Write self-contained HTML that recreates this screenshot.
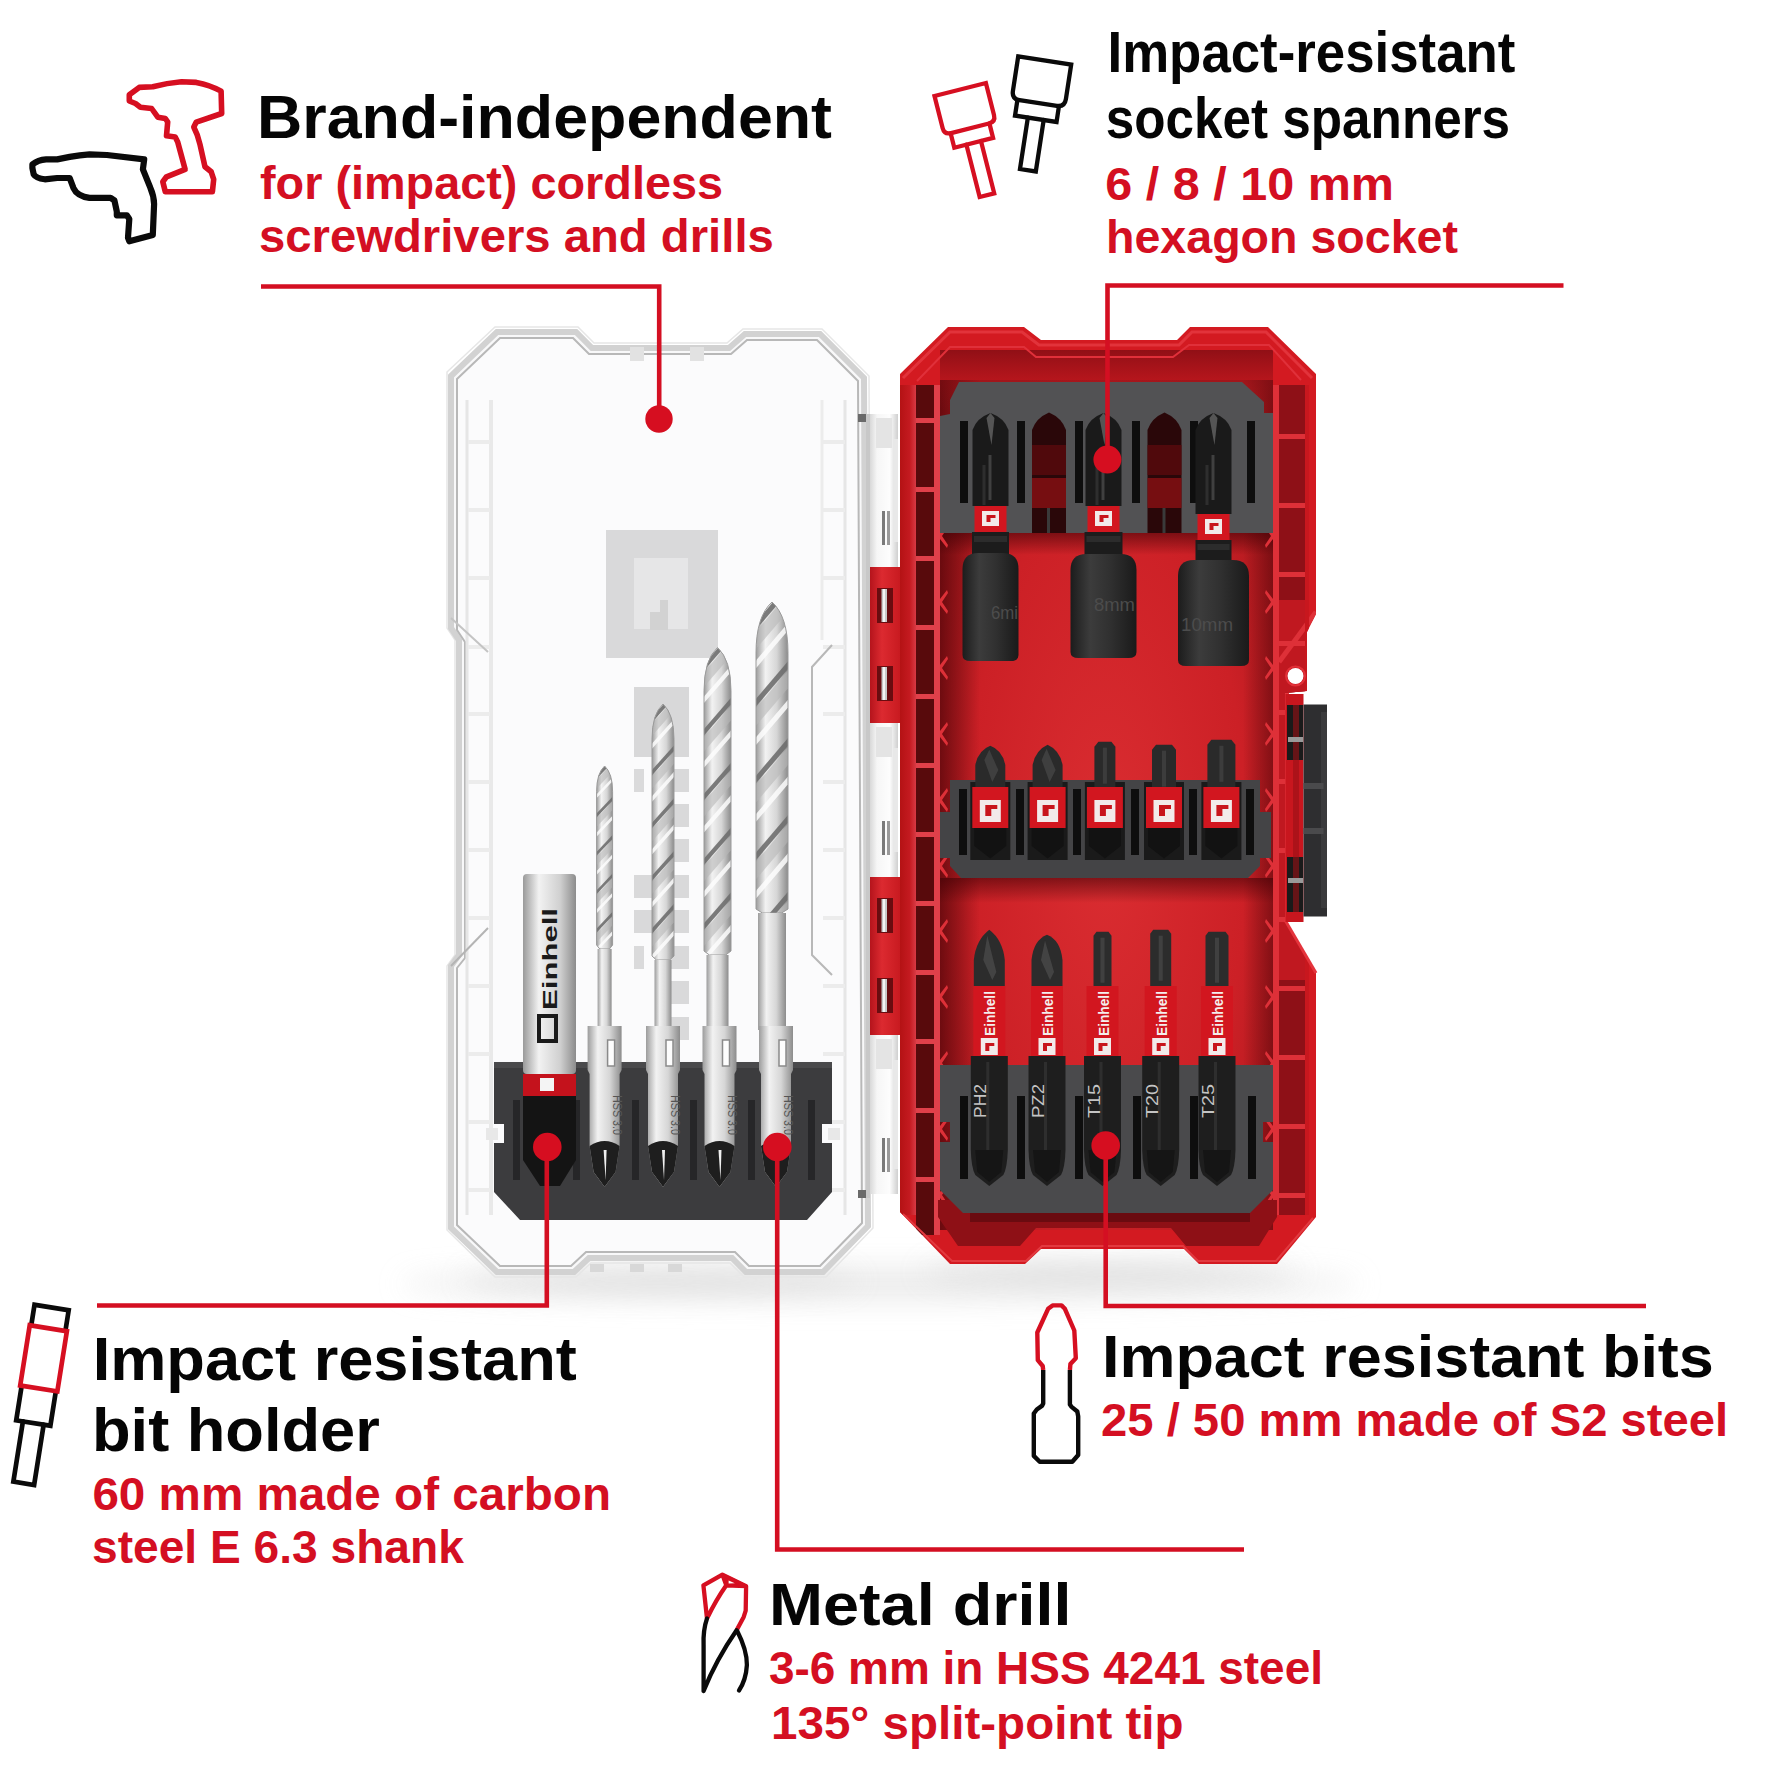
<!DOCTYPE html>
<html><head><meta charset="utf-8">
<style>
html,body{margin:0;padding:0;background:#fff;}
body{width:1772px;height:1772px;overflow:hidden;position:relative;}
svg{position:absolute;left:0;top:0;}
.k{font-family:"Liberation Sans",sans-serif;font-weight:bold;fill:#050505;}
.r{font-family:"Liberation Sans",sans-serif;font-weight:bold;fill:#d40f22;}
</style></head><body>
<svg width="1772" height="1772" viewBox="0 0 1772 1772">
<defs><filter id="blur8" x="-30%" y="-300%" width="160%" height="700%"><feGaussianBlur stdDeviation="14"/></filter><filter id="blur3"><feGaussianBlur stdDeviation="2"/></filter><linearGradient id="drillg" x1="0" x2="1"><stop offset="0" stop-color="#9c9c9c"/><stop offset="0.3" stop-color="#f2f2f2"/><stop offset="0.65" stop-color="#d6d6d6"/><stop offset="1" stop-color="#8c8c8c"/></linearGradient><linearGradient id="holdg" x1="0" x2="1"><stop offset="0" stop-color="#9a9a9a"/><stop offset="0.3" stop-color="#f2f2f2"/><stop offset="0.7" stop-color="#d0d0d0"/><stop offset="1" stop-color="#8c8c8c"/></linearGradient><linearGradient id="sockg" x1="0" x2="1"><stop offset="0" stop-color="#1c1c1c"/><stop offset="0.3" stop-color="#3c3c3c"/><stop offset="0.6" stop-color="#303030"/><stop offset="1" stop-color="#1a1a1a"/></linearGradient></defs>
<ellipse cx="880" cy="1284" rx="480" ry="16" fill="#e2e2e2" filter="url(#blur8)" opacity="0.7"/>
<ellipse cx="660" cy="1280" rx="200" ry="8" fill="#cdcdcd" filter="url(#blur8)" opacity="0.6"/>
<ellipse cx="1110" cy="1272" rx="190" ry="8" fill="#c6c6c6" filter="url(#blur8)" opacity="0.6"/>
<polygon points="447,372 495,327 578,327 594,343 727,343 743,329 822,329 869,376 873,1228 826,1277 744,1277 730,1263 591,1263 576,1277 495,1277 447,1230 447,966 455,955 455,640 447,628" fill="none" stroke="#e6e6e6" stroke-width="1.5"/>
<polygon points="451,376 497,332 576,332 592,348 729,348 745,334 820,334 864,378 868,1226 823,1272 746,1272 732,1258 589,1258 574,1272 497,1272 451,1228 451,966 459,955 459,640 451,628" fill="#f8f8f9" stroke="#d2d2d2" stroke-width="6"/>
<polygon points="457,379 500,338 573,338 589,354 731,354 747,340 817,340 858,381 862,1223 820,1266 749,1266 735,1252 586,1252 571,1266 500,1266 457,1225 457,968 465,958 465,642 457,630" fill="#fbfbfc" stroke="#b8b8b8" stroke-width="2"/>
<polyline points="467,400 467,1215" fill="none" stroke="#e6e6e6" stroke-width="3"/>
<polyline points="491,400 491,1215" fill="none" stroke="#e9e9e9" stroke-width="4"/>
<polyline points="845,400 845,1215" fill="none" stroke="#e6e6e6" stroke-width="3"/>
<polyline points="822,400 822,640" fill="none" stroke="#ececec" stroke-width="3"/>
<rect x="468" y="440" width="22" height="4" fill="#ececec"/>
<rect x="823" y="440" width="22" height="4" fill="#ececec"/>
<rect x="468" y="508" width="22" height="4" fill="#ececec"/>
<rect x="823" y="508" width="22" height="4" fill="#ececec"/>
<rect x="468" y="576" width="22" height="4" fill="#ececec"/>
<rect x="823" y="576" width="22" height="4" fill="#ececec"/>
<rect x="468" y="645" width="22" height="4" fill="#ececec"/>
<rect x="823" y="645" width="22" height="4" fill="#ececec"/>
<rect x="468" y="712" width="22" height="4" fill="#ececec"/>
<rect x="823" y="712" width="22" height="4" fill="#ececec"/>
<rect x="468" y="780" width="22" height="4" fill="#ececec"/>
<rect x="823" y="780" width="22" height="4" fill="#ececec"/>
<rect x="468" y="848" width="22" height="4" fill="#ececec"/>
<rect x="823" y="848" width="22" height="4" fill="#ececec"/>
<rect x="468" y="916" width="22" height="4" fill="#ececec"/>
<rect x="823" y="916" width="22" height="4" fill="#ececec"/>
<rect x="468" y="984" width="22" height="4" fill="#ececec"/>
<rect x="823" y="984" width="22" height="4" fill="#ececec"/>
<rect x="468" y="1052" width="22" height="4" fill="#ececec"/>
<rect x="823" y="1052" width="22" height="4" fill="#ececec"/>
<rect x="468" y="1120" width="22" height="4" fill="#ececec"/>
<rect x="823" y="1120" width="22" height="4" fill="#ececec"/>
<rect x="468" y="1188" width="22" height="4" fill="#ececec"/>
<rect x="823" y="1188" width="22" height="4" fill="#ececec"/>
<polyline points="451,618 488,652" fill="none" stroke="#c4c4c4" stroke-width="2"/>
<polyline points="488,928 451,966" fill="none" stroke="#b4b4b4" stroke-width="2"/>
<polyline points="832,645 812,667 812,955 832,975" fill="none" stroke="#b8b8b8" stroke-width="2"/>
<rect x="630" y="347" width="14" height="14" fill="#e2e2e2"/>
<rect x="690" y="347" width="14" height="14" fill="#e2e2e2"/>
<rect x="590" y="1264" width="14" height="8" fill="#d8d8d8"/>
<rect x="630" y="1264" width="14" height="8" fill="#d8d8d8"/>
<rect x="668" y="1264" width="14" height="8" fill="#d8d8d8"/>
<rect x="606" y="530" width="112" height="128" fill="#d9d9da"/>
<rect x="634" y="558" width="54" height="71" fill="#e6e6e7"/>
<polygon points="660,600 668,600 668,630 650,630 650,612 660,612" fill="#d2d2d2"/>
<rect x="634" y="687" width="55" height="70" fill="#d8d8d9"/>
<rect x="669" y="769" width="20" height="23" fill="#d9d9da"/>
<rect x="669" y="804" width="20" height="23" fill="#d9d9da"/>
<rect x="669" y="839" width="20" height="23" fill="#d9d9da"/>
<rect x="669" y="875" width="20" height="23" fill="#d9d9da"/>
<rect x="669" y="910" width="20" height="23" fill="#d9d9da"/>
<rect x="669" y="946" width="20" height="23" fill="#d9d9da"/>
<rect x="669" y="981" width="20" height="23" fill="#d9d9da"/>
<rect x="669" y="1017" width="20" height="23" fill="#d9d9da"/>
<rect x="634" y="769" width="10" height="23" fill="#dadadb"/>
<rect x="634" y="875" width="10" height="23" fill="#dadadb"/>
<rect x="634" y="946" width="10" height="23" fill="#dadadb"/>
<rect x="634" y="875" width="55" height="23" fill="#d9d9da"/>
<rect x="634" y="910" width="55" height="23" fill="#d9d9da"/>
<clipPath id="dc1"><path d="M596.6,791.6 Q596.6,773.2 604.6,766 Q612.6,773.2 612.6,791.6 L612.6,945 L609.4,949 L599.8000000000001,949 L596.6,945 Z"/></clipPath><path d="M596.6,791.6 Q596.6,773.2 604.6,766 Q612.6,773.2 612.6,791.6 L612.6,945 L609.4,949 L599.8000000000001,949 L596.6,945 Z" fill="url(#drillg)"/><g clip-path="url(#dc1)"><path d="M594.6,777.2 L614.6,756.08 L614.6,759.9200000000001 L594.6,781.0400000000001 Z" fill="#6e6e6e" opacity="0.9"/><path d="M594.6,781.808 L614.6,760.6880000000001 L614.6,769.5200000000001 L594.6,790.6400000000001 Z" fill="#b8b8b8" opacity="0.6"/><path d="M594.6,796.4000000000001 L614.6,775.2800000000001 L614.6,779.12 L594.6,800.24 Z" fill="#fdfdfd" opacity="0.85"/><path d="M594.6,815.6 L614.6,794.48 L614.6,798.32 L594.6,819.44 Z" fill="#6e6e6e" opacity="0.9"/><path d="M594.6,820.208 L614.6,799.088 L614.6,807.9200000000001 L594.6,829.0400000000001 Z" fill="#b8b8b8" opacity="0.6"/><path d="M594.6,834.8000000000001 L614.6,813.6800000000001 L614.6,817.52 L594.6,838.64 Z" fill="#fdfdfd" opacity="0.85"/><path d="M594.6,854.0 L614.6,832.88 L614.6,836.72 L594.6,857.84 Z" fill="#6e6e6e" opacity="0.9"/><path d="M594.6,858.608 L614.6,837.488 L614.6,846.32 L594.6,867.44 Z" fill="#b8b8b8" opacity="0.6"/><path d="M594.6,873.2 L614.6,852.08 L614.6,855.92 L594.6,877.04 Z" fill="#fdfdfd" opacity="0.85"/><path d="M594.6,892.4 L614.6,871.28 L614.6,875.12 L594.6,896.24 Z" fill="#6e6e6e" opacity="0.9"/><path d="M594.6,897.0079999999999 L614.6,875.8879999999999 L614.6,884.72 L594.6,905.84 Z" fill="#b8b8b8" opacity="0.6"/><path d="M594.6,911.6 L614.6,890.48 L614.6,894.3199999999999 L594.6,915.4399999999999 Z" fill="#fdfdfd" opacity="0.85"/><path d="M594.6,930.8 L614.6,909.68 L614.6,913.52 L594.6,934.64 Z" fill="#6e6e6e" opacity="0.9"/><path d="M594.6,935.4079999999999 L614.6,914.288 L614.6,923.12 L594.6,944.24 Z" fill="#b8b8b8" opacity="0.6"/><path d="M594.6,950.0 L614.6,928.88 L614.6,932.7199999999999 L594.6,953.8399999999999 Z" fill="#fdfdfd" opacity="0.85"/><path d="M594.6,969.1999999999999 L614.6,948.0799999999999 L614.6,951.92 L594.6,973.04 Z" fill="#6e6e6e" opacity="0.9"/><path d="M594.6,973.8079999999999 L614.6,952.6879999999999 L614.6,961.52 L594.6,982.64 Z" fill="#b8b8b8" opacity="0.6"/><path d="M594.6,988.4 L614.6,967.28 L614.6,971.1199999999999 L594.6,992.2399999999999 Z" fill="#fdfdfd" opacity="0.85"/></g><path d="M596.6,791.6 Q596.6,773.2 604.6,766 Q612.6,773.2 612.6,791.6 L612.6,945 L609.4,949 L599.8000000000001,949 L596.6,945 Z" fill="none" stroke="#9a9a9a" stroke-width="1"/><rect x="597.6" y="949" width="14" height="81" fill="url(#drillg)"/>
<clipPath id="dc2"><path d="M652.0,739.2 Q652.0,713.9 663,704 Q674.0,713.9 674.0,739.2 L674.0,956 L669.6,960 L656.4,960 L652.0,956 Z"/></clipPath><path d="M652.0,739.2 Q652.0,713.9 663,704 Q674.0,713.9 674.0,739.2 L674.0,956 L669.6,960 L656.4,960 L652.0,956 Z" fill="url(#drillg)"/><g clip-path="url(#dc2)"><path d="M650.0,719.4 L676.0,690.36 L676.0,695.64 L650.0,724.68 Z" fill="#6e6e6e" opacity="0.9"/><path d="M650.0,725.736 L676.0,696.696 L676.0,708.84 L650.0,737.88 Z" fill="#b8b8b8" opacity="0.6"/><path d="M650.0,745.8 L676.0,716.76 L676.0,722.04 L650.0,751.0799999999999 Z" fill="#fdfdfd" opacity="0.85"/><path d="M650.0,772.1999999999999 L676.0,743.16 L676.0,748.4399999999999 L650.0,777.4799999999999 Z" fill="#6e6e6e" opacity="0.9"/><path d="M650.0,778.536 L676.0,749.496 L676.0,761.64 L650.0,790.68 Z" fill="#b8b8b8" opacity="0.6"/><path d="M650.0,798.5999999999999 L676.0,769.56 L676.0,774.8399999999999 L650.0,803.8799999999999 Z" fill="#fdfdfd" opacity="0.85"/><path d="M650.0,824.9999999999999 L676.0,795.9599999999999 L676.0,801.2399999999999 L650.0,830.2799999999999 Z" fill="#6e6e6e" opacity="0.9"/><path d="M650.0,831.3359999999999 L676.0,802.2959999999999 L676.0,814.4399999999999 L650.0,843.4799999999999 Z" fill="#b8b8b8" opacity="0.6"/><path d="M650.0,851.3999999999999 L676.0,822.3599999999999 L676.0,827.6399999999999 L650.0,856.6799999999998 Z" fill="#fdfdfd" opacity="0.85"/><path d="M650.0,877.7999999999998 L676.0,848.7599999999999 L676.0,854.0399999999998 L650.0,883.0799999999998 Z" fill="#6e6e6e" opacity="0.9"/><path d="M650.0,884.1359999999999 L676.0,855.0959999999999 L676.0,867.2399999999999 L650.0,896.2799999999999 Z" fill="#b8b8b8" opacity="0.6"/><path d="M650.0,904.1999999999998 L676.0,875.1599999999999 L676.0,880.4399999999998 L650.0,909.4799999999998 Z" fill="#fdfdfd" opacity="0.85"/><path d="M650.0,930.5999999999998 L676.0,901.5599999999998 L676.0,906.8399999999998 L650.0,935.8799999999998 Z" fill="#6e6e6e" opacity="0.9"/><path d="M650.0,936.9359999999998 L676.0,907.8959999999998 L676.0,920.0399999999998 L650.0,949.0799999999998 Z" fill="#b8b8b8" opacity="0.6"/><path d="M650.0,956.9999999999998 L676.0,927.9599999999998 L676.0,933.2399999999998 L650.0,962.2799999999997 Z" fill="#fdfdfd" opacity="0.85"/><path d="M650.0,983.3999999999997 L676.0,954.3599999999998 L676.0,959.6399999999998 L650.0,988.6799999999997 Z" fill="#6e6e6e" opacity="0.9"/><path d="M650.0,989.7359999999998 L676.0,960.6959999999998 L676.0,972.8399999999998 L650.0,1001.8799999999998 Z" fill="#b8b8b8" opacity="0.6"/><path d="M650.0,1009.7999999999997 L676.0,980.7599999999998 L676.0,986.0399999999997 L650.0,1015.0799999999997 Z" fill="#fdfdfd" opacity="0.85"/></g><path d="M652.0,739.2 Q652.0,713.9 663,704 Q674.0,713.9 674.0,739.2 L674.0,956 L669.6,960 L656.4,960 L652.0,956 Z" fill="none" stroke="#9a9a9a" stroke-width="1"/><rect x="654.5" y="960" width="17" height="70" fill="url(#drillg)"/>
<clipPath id="dc3"><path d="M704.0,690.7 Q704.0,659.65 717.5,647.5 Q731.0,659.65 731.0,690.7 L731.0,951 L725.6,955 L709.4,955 L704.0,951 Z"/></clipPath><path d="M704.0,690.7 Q704.0,659.65 717.5,647.5 Q731.0,659.65 731.0,690.7 L731.0,951 L725.6,955 L709.4,955 L704.0,951 Z" fill="url(#drillg)"/><g clip-path="url(#dc3)"><path d="M702.0,666.4 L733.0,630.76 L733.0,637.24 L702.0,672.88 Z" fill="#6e6e6e" opacity="0.9"/><path d="M702.0,674.1759999999999 L733.0,638.536 L733.0,653.4399999999999 L702.0,689.0799999999999 Z" fill="#b8b8b8" opacity="0.6"/><path d="M702.0,698.8 L733.0,663.16 L733.0,669.64 L702.0,705.28 Z" fill="#fdfdfd" opacity="0.85"/><path d="M702.0,731.1999999999999 L733.0,695.56 L733.0,702.04 L702.0,737.68 Z" fill="#6e6e6e" opacity="0.9"/><path d="M702.0,738.9759999999999 L733.0,703.3359999999999 L733.0,718.2399999999999 L702.0,753.8799999999999 Z" fill="#b8b8b8" opacity="0.6"/><path d="M702.0,763.5999999999999 L733.0,727.9599999999999 L733.0,734.4399999999999 L702.0,770.0799999999999 Z" fill="#fdfdfd" opacity="0.85"/><path d="M702.0,795.9999999999999 L733.0,760.3599999999999 L733.0,766.8399999999999 L702.0,802.4799999999999 Z" fill="#6e6e6e" opacity="0.9"/><path d="M702.0,803.7759999999998 L733.0,768.1359999999999 L733.0,783.0399999999998 L702.0,818.6799999999998 Z" fill="#b8b8b8" opacity="0.6"/><path d="M702.0,828.3999999999999 L733.0,792.7599999999999 L733.0,799.2399999999999 L702.0,834.8799999999999 Z" fill="#fdfdfd" opacity="0.85"/><path d="M702.0,860.7999999999998 L733.0,825.1599999999999 L733.0,831.6399999999999 L702.0,867.2799999999999 Z" fill="#6e6e6e" opacity="0.9"/><path d="M702.0,868.5759999999998 L733.0,832.9359999999998 L733.0,847.8399999999998 L702.0,883.4799999999998 Z" fill="#b8b8b8" opacity="0.6"/><path d="M702.0,893.1999999999998 L733.0,857.5599999999998 L733.0,864.0399999999998 L702.0,899.6799999999998 Z" fill="#fdfdfd" opacity="0.85"/><path d="M702.0,925.5999999999998 L733.0,889.9599999999998 L733.0,896.4399999999998 L702.0,932.0799999999998 Z" fill="#6e6e6e" opacity="0.9"/><path d="M702.0,933.3759999999997 L733.0,897.7359999999998 L733.0,912.6399999999998 L702.0,948.2799999999997 Z" fill="#b8b8b8" opacity="0.6"/><path d="M702.0,957.9999999999998 L733.0,922.3599999999998 L733.0,928.8399999999998 L702.0,964.4799999999998 Z" fill="#fdfdfd" opacity="0.85"/><path d="M702.0,990.3999999999997 L733.0,954.7599999999998 L733.0,961.2399999999998 L702.0,996.8799999999998 Z" fill="#6e6e6e" opacity="0.9"/><path d="M702.0,998.1759999999997 L733.0,962.5359999999997 L733.0,977.4399999999997 L702.0,1013.0799999999997 Z" fill="#b8b8b8" opacity="0.6"/><path d="M702.0,1022.7999999999997 L733.0,987.1599999999997 L733.0,993.6399999999998 L702.0,1029.2799999999997 Z" fill="#fdfdfd" opacity="0.85"/></g><path d="M704.0,690.7 Q704.0,659.65 717.5,647.5 Q731.0,659.65 731.0,690.7 L731.0,951 L725.6,955 L709.4,955 L704.0,951 Z" fill="none" stroke="#9a9a9a" stroke-width="1"/><rect x="706.5" y="955" width="22" height="75" fill="url(#drillg)"/>
<clipPath id="dc4"><path d="M756.0,653.2 Q756.0,616.4 772,602 Q788.0,616.4 788.0,653.2 L788.0,909 L781.6,913 L762.4,913 L756.0,909 Z"/></clipPath><path d="M756.0,653.2 Q756.0,616.4 772,602 Q788.0,616.4 788.0,653.2 L788.0,909 L781.6,913 L762.4,913 L756.0,909 Z" fill="url(#drillg)"/><g clip-path="url(#dc4)"><path d="M754.0,624.4 L790.0,582.16 L790.0,589.8399999999999 L754.0,632.0799999999999 Z" fill="#6e6e6e" opacity="0.9"/><path d="M754.0,633.616 L790.0,591.376 L790.0,609.04 L754.0,651.28 Z" fill="#b8b8b8" opacity="0.6"/><path d="M754.0,662.8 L790.0,620.56 L790.0,628.24 L754.0,670.48 Z" fill="#fdfdfd" opacity="0.85"/><path d="M754.0,701.1999999999999 L790.0,658.9599999999999 L790.0,666.6399999999999 L754.0,708.8799999999999 Z" fill="#6e6e6e" opacity="0.9"/><path d="M754.0,710.4159999999999 L790.0,668.1759999999999 L790.0,685.8399999999999 L754.0,728.0799999999999 Z" fill="#b8b8b8" opacity="0.6"/><path d="M754.0,739.5999999999999 L790.0,697.3599999999999 L790.0,705.04 L754.0,747.28 Z" fill="#fdfdfd" opacity="0.85"/><path d="M754.0,777.9999999999999 L790.0,735.7599999999999 L790.0,743.4399999999998 L754.0,785.6799999999998 Z" fill="#6e6e6e" opacity="0.9"/><path d="M754.0,787.2159999999999 L790.0,744.9759999999999 L790.0,762.6399999999999 L754.0,804.8799999999999 Z" fill="#b8b8b8" opacity="0.6"/><path d="M754.0,816.3999999999999 L790.0,774.1599999999999 L790.0,781.8399999999999 L754.0,824.0799999999999 Z" fill="#fdfdfd" opacity="0.85"/><path d="M754.0,854.7999999999998 L790.0,812.5599999999998 L790.0,820.2399999999998 L754.0,862.4799999999998 Z" fill="#6e6e6e" opacity="0.9"/><path d="M754.0,864.0159999999998 L790.0,821.7759999999998 L790.0,839.4399999999998 L754.0,881.6799999999998 Z" fill="#b8b8b8" opacity="0.6"/><path d="M754.0,893.1999999999998 L790.0,850.9599999999998 L790.0,858.6399999999999 L754.0,900.8799999999999 Z" fill="#fdfdfd" opacity="0.85"/><path d="M754.0,931.5999999999998 L790.0,889.3599999999998 L790.0,897.0399999999997 L754.0,939.2799999999997 Z" fill="#6e6e6e" opacity="0.9"/><path d="M754.0,940.8159999999998 L790.0,898.5759999999998 L790.0,916.2399999999998 L754.0,958.4799999999998 Z" fill="#b8b8b8" opacity="0.6"/><path d="M754.0,969.9999999999998 L790.0,927.7599999999998 L790.0,935.4399999999998 L754.0,977.6799999999998 Z" fill="#fdfdfd" opacity="0.85"/></g><path d="M756.0,653.2 Q756.0,616.4 772,602 Q788.0,616.4 788.0,653.2 L788.0,909 L781.6,913 L762.4,913 L756.0,909 Z" fill="none" stroke="#9a9a9a" stroke-width="1"/><rect x="758.0" y="913" width="28" height="117" fill="url(#drillg)"/>
<polygon points="494,1062 832,1062 832,1124 822,1124 822,1143 832,1143 832,1192 807,1220 520,1220 494,1192 494,1143 504,1143 504,1124 494,1124" fill="#3c3c3e"/>
<rect x="494" y="1062" width="338" height="6" fill="#4a4a4c"/>
<rect x="513" y="1100" width="7" height="80" fill="#262628"/>
<rect x="573" y="1100" width="7" height="80" fill="#262628"/>
<rect x="632" y="1100" width="7" height="80" fill="#262628"/>
<rect x="690" y="1100" width="7" height="80" fill="#262628"/>
<rect x="748" y="1100" width="7" height="80" fill="#262628"/>
<rect x="808" y="1100" width="7" height="80" fill="#262628"/>
<rect x="486" y="1128" width="12" height="12" fill="#e8e8e8"/>
<rect x="828" y="1128" width="12" height="12" fill="#e8e8e8"/>
<path d="M587.6,1026 L621.6,1026 L621.6,1070 L619.6,1074 L619.6,1146 L615.6,1172 L604.6,1187 L593.6,1172 L589.6,1146 L589.6,1074 L587.6,1070 Z" fill="url(#drillg)"/>
<rect x="607.6" y="1040" width="7" height="26" fill="#fdfdfd" stroke="#8a8a8a" stroke-width="1.5"/>
<path d="M589.6,1146 Q604.6,1136 619.6,1146 L615.6,1172 L604.6,1187 L593.6,1172 Z" fill="#1e1e1e"/>
<path d="M603.6,1150 L606.6,1150 L605.6,1180 Z" fill="#f0f0f0"/>
<text x="0" y="0" transform="translate(612.6,1095) rotate(90)" font-family="Liberation Sans" font-size="13" fill="#555" textLength="40" lengthAdjust="spacingAndGlyphs">HSS 3.0</text>
<path d="M646,1026 L680,1026 L680,1070 L678,1074 L678,1146 L674,1172 L663,1187 L652,1172 L648,1146 L648,1074 L646,1070 Z" fill="url(#drillg)"/>
<rect x="666" y="1040" width="7" height="26" fill="#fdfdfd" stroke="#8a8a8a" stroke-width="1.5"/>
<path d="M648,1146 Q663,1136 678,1146 L674,1172 L663,1187 L652,1172 Z" fill="#1e1e1e"/>
<path d="M662,1150 L665,1150 L664,1180 Z" fill="#f0f0f0"/>
<text x="0" y="0" transform="translate(671,1095) rotate(90)" font-family="Liberation Sans" font-size="13" fill="#555" textLength="40" lengthAdjust="spacingAndGlyphs">HSS 3.0</text>
<path d="M702.5,1026 L736.5,1026 L736.5,1070 L734.5,1074 L734.5,1146 L730.5,1172 L719.5,1187 L708.5,1172 L704.5,1146 L704.5,1074 L702.5,1070 Z" fill="url(#drillg)"/>
<rect x="722.5" y="1040" width="7" height="26" fill="#fdfdfd" stroke="#8a8a8a" stroke-width="1.5"/>
<path d="M704.5,1146 Q719.5,1136 734.5,1146 L730.5,1172 L719.5,1187 L708.5,1172 Z" fill="#1e1e1e"/>
<path d="M718.5,1150 L721.5,1150 L720.5,1180 Z" fill="#f0f0f0"/>
<text x="0" y="0" transform="translate(727.5,1095) rotate(90)" font-family="Liberation Sans" font-size="13" fill="#555" textLength="40" lengthAdjust="spacingAndGlyphs">HSS 3.0</text>
<path d="M759,1026 L793,1026 L793,1070 L791,1074 L791,1146 L787,1172 L776,1187 L765,1172 L761,1146 L761,1074 L759,1070 Z" fill="url(#drillg)"/>
<rect x="779" y="1040" width="7" height="26" fill="#fdfdfd" stroke="#8a8a8a" stroke-width="1.5"/>
<path d="M761,1146 Q776,1136 791,1146 L787,1172 L776,1187 L765,1172 Z" fill="#1e1e1e"/>
<path d="M775,1150 L778,1150 L777,1180 Z" fill="#f0f0f0"/>
<text x="0" y="0" transform="translate(784,1095) rotate(90)" font-family="Liberation Sans" font-size="13" fill="#555" textLength="40" lengthAdjust="spacingAndGlyphs">HSS 3.0</text>
<rect x="523" y="874" width="53" height="200" rx="4" fill="url(#holdg)"/>
<text x="0" y="0" transform="translate(557,1010) rotate(-90)" font-family="Liberation Sans" font-weight="bold" font-size="21" fill="#1a1a1a" textLength="102" lengthAdjust="spacingAndGlyphs">Einhell</text>
<rect x="539" y="1016" width="17" height="25" fill="none" stroke="#1a1a1a" stroke-width="4"/>
<rect x="523" y="1074" width="53" height="22" fill="#c4121c"/>
<rect x="540" y="1078" width="14" height="13" fill="#f4f4f4"/>
<path d="M523,1096 L576,1096 L576,1160 L560,1186 L540,1186 L523,1160 Z" fill="#141414"/>
<linearGradient id="hingew" x1="0" x2="1"><stop offset="0" stop-color="#d8d8d8"/><stop offset="0.25" stop-color="#f6f6f6"/><stop offset="0.7" stop-color="#fdfdfd"/><stop offset="1" stop-color="#cfcfcf"/></linearGradient>
<linearGradient id="hinger" x1="0" x2="1"><stop offset="0" stop-color="#b5141c"/><stop offset="0.4" stop-color="#dc2a30"/><stop offset="1" stop-color="#c81a20"/></linearGradient>
<rect x="858" y="414" width="12" height="8" fill="#6a6a6a"/>
<rect x="858" y="1190" width="12" height="8" fill="#6a6a6a"/>
<rect x="866" y="414" width="4" height="784" fill="#c8c8c8"/>
<rect x="870" y="414" width="28" height="153" fill="url(#hingew)"/>
<rect x="893" y="439" width="5" height="103" fill="#e8e8e8"/>
<rect x="870" y="723" width="28" height="154" fill="url(#hingew)"/>
<rect x="893" y="748" width="5" height="104" fill="#e8e8e8"/>
<rect x="870" y="1035" width="28" height="159" fill="url(#hingew)"/>
<rect x="893" y="1060" width="5" height="109" fill="#e8e8e8"/>
<rect x="870" y="567" width="30" height="156" fill="url(#hinger)"/>
<rect x="877" y="588" width="16" height="35" fill="#6a0c10"/>
<rect x="881.5" y="589" width="5.5" height="33" fill="#c8c8c8"/>
<rect x="883" y="589" width="2" height="33" fill="#f4f4f4"/>
<rect x="877" y="666" width="16" height="35" fill="#6a0c10"/>
<rect x="881.5" y="667" width="5.5" height="33" fill="#c8c8c8"/>
<rect x="883" y="667" width="2" height="33" fill="#f4f4f4"/>
<rect x="870" y="877" width="30" height="158" fill="url(#hinger)"/>
<rect x="877" y="898" width="16" height="35" fill="#6a0c10"/>
<rect x="881.5" y="899" width="5.5" height="33" fill="#c8c8c8"/>
<rect x="883" y="899" width="2" height="33" fill="#f4f4f4"/>
<rect x="877" y="978" width="16" height="35" fill="#6a0c10"/>
<rect x="881.5" y="979" width="5.5" height="33" fill="#c8c8c8"/>
<rect x="883" y="979" width="2" height="33" fill="#f4f4f4"/>
<rect x="882" y="511" width="3" height="34" fill="#7a7a7a"/>
<rect x="887" y="511" width="3" height="34" fill="#9a9a9a"/>
<rect x="876" y="418" width="16" height="30" fill="#e4e4e4"/>
<rect x="882" y="821" width="3" height="34" fill="#7a7a7a"/>
<rect x="887" y="821" width="3" height="34" fill="#9a9a9a"/>
<rect x="876" y="727" width="16" height="30" fill="#e4e4e4"/>
<rect x="882" y="1138" width="3" height="34" fill="#7a7a7a"/>
<rect x="887" y="1138" width="3" height="34" fill="#9a9a9a"/>
<rect x="876" y="1039" width="16" height="30" fill="#e4e4e4"/>
<clipPath id="redclip"><polygon points="900,374 948,327 1024,327 1041,340 1177,340 1190,327 1268,327 1316,374 1316,614 1307,632 1307,691 1285,693 1285,920 1316,973 1316,1217 1277,1264 1199,1264 1184,1249 1041,1249 1025,1264 950,1264 900,1212"/></clipPath>
<radialGradient id="floorg" cx="0.5" cy="0.55" r="0.6"><stop offset="0" stop-color="#da2d31"/><stop offset="0.7" stop-color="#cc2026"/><stop offset="1" stop-color="#b21a1f"/></radialGradient>
<polygon points="900,374 948,327 1024,327 1041,340 1177,340 1190,327 1268,327 1316,374 1316,614 1307,632 1307,691 1285,693 1285,920 1316,973 1316,1217 1277,1264 1199,1264 1184,1249 1041,1249 1025,1264 950,1264 900,1212" fill="#d31a21"/>
<g clip-path="url(#redclip)">
<polygon points="940,380 1273,380 1273,1230 940,1230" fill="url(#floorg)"/>
<linearGradient id="lshade" x1="0" x2="1"><stop offset="0" stop-color="#3a0004" stop-opacity="0.6"/><stop offset="1" stop-color="#3a0004" stop-opacity="0"/></linearGradient>
<linearGradient id="rshade" x1="1" x2="0"><stop offset="0" stop-color="#3a0004" stop-opacity="0.45"/><stop offset="1" stop-color="#3a0004" stop-opacity="0"/></linearGradient>
<linearGradient id="dshade" x1="0" y1="0" x2="0" y2="1"><stop offset="0" stop-color="#3a0004" stop-opacity="0.55"/><stop offset="1" stop-color="#3a0004" stop-opacity="0"/></linearGradient>
<rect x="940" y="380" width="40" height="850" fill="url(#lshade)"/>
<rect x="1243" y="380" width="30" height="850" fill="url(#rshade)"/>
<rect x="940" y="533" width="333" height="22" fill="url(#dshade)"/>
<rect x="940" y="878" width="333" height="25" fill="url(#dshade)"/>
<linearGradient id="topdark" x1="0" y1="0" x2="0" y2="1"><stop offset="0" stop-color="#7a0c12" stop-opacity="0.75"/><stop offset="1" stop-color="#8e1016" stop-opacity="0"/></linearGradient>
<rect x="940" y="350" width="333" height="60" fill="url(#topdark)"/>
<polyline points="903,378 950,332 1022,332 1039,345 1179,345 1192,332 1266,332 1312,378" fill="none" stroke="#e2333b" stroke-width="3"/>
<polyline points="917,381 950,347 1024,347 1036,357 1173,357 1189,345 1269,345 1301,380" fill="none" stroke="#e0303a" stroke-width="2"/>
<rect x="916" y="385" width="18" height="850" fill="#580a0c"/>
<rect x="934" y="385" width="6" height="850" fill="#e0404a"/>
<linearGradient id="lwall" x1="0" x2="1"><stop offset="0" stop-color="#b41214"/><stop offset="0.6" stop-color="#c41a20"/><stop offset="1" stop-color="#d83a44"/></linearGradient>
<rect x="900" y="385" width="16" height="830" fill="url(#lwall)"/>
<rect x="916" y="418" width="18" height="5" fill="#e0404a"/>
<rect x="916" y="487" width="18" height="5" fill="#e0404a"/>
<rect x="916" y="556" width="18" height="5" fill="#e0404a"/>
<rect x="916" y="625" width="18" height="5" fill="#e0404a"/>
<rect x="916" y="694" width="18" height="5" fill="#e0404a"/>
<rect x="916" y="763" width="18" height="5" fill="#e0404a"/>
<rect x="916" y="832" width="18" height="5" fill="#e0404a"/>
<rect x="916" y="901" width="18" height="5" fill="#e0404a"/>
<rect x="916" y="970" width="18" height="5" fill="#e0404a"/>
<rect x="916" y="1039" width="18" height="5" fill="#e0404a"/>
<rect x="916" y="1108" width="18" height="5" fill="#e0404a"/>
<rect x="916" y="1177" width="18" height="5" fill="#e0404a"/>
<path d="M940,467 L947,458 L948,461 L942,470 L948,479 L947,482 L940,473 Z" fill="#de3038"/>
<path d="M940,533 L947,524 L948,527 L942,536 L948,545 L947,548 L940,539 Z" fill="#de3038"/>
<path d="M940,599 L947,590 L948,593 L942,602 L948,611 L947,614 L940,605 Z" fill="#de3038"/>
<path d="M940,665 L947,656 L948,659 L942,668 L948,677 L947,680 L940,671 Z" fill="#de3038"/>
<path d="M940,731 L947,722 L948,725 L942,734 L948,743 L947,746 L940,737 Z" fill="#de3038"/>
<path d="M940,797 L947,788 L948,791 L942,800 L948,809 L947,812 L940,803 Z" fill="#de3038"/>
<path d="M940,863 L947,854 L948,857 L942,866 L948,875 L947,878 L940,869 Z" fill="#de3038"/>
<path d="M940,928 L947,919 L948,922 L942,931 L948,940 L947,943 L940,934 Z" fill="#de3038"/>
<path d="M940,994 L947,985 L948,988 L942,997 L948,1006 L947,1009 L940,1000 Z" fill="#de3038"/>
<path d="M940,1060 L947,1051 L948,1054 L942,1063 L948,1072 L947,1075 L940,1066 Z" fill="#de3038"/>
<path d="M940,1126 L947,1117 L948,1120 L942,1129 L948,1138 L947,1141 L940,1132 Z" fill="#de3038"/>
<path d="M940,1192 L947,1183 L948,1186 L942,1195 L948,1204 L947,1207 L940,1198 Z" fill="#de3038"/>
<rect x="1279" y="385" width="26" height="830" fill="#8e1017"/>
<rect x="1279" y="600" width="26" height="380" fill="#c01820"/>
<polyline points="1316,612 1279,662" stroke="#de3038" stroke-width="5" fill="none"/>
<rect x="1273" y="385" width="6" height="830" fill="#de3038"/>
<rect x="1305" y="385" width="4" height="830" fill="#c8171e"/>
<rect x="1279" y="434" width="26" height="5" fill="#de3038"/>
<rect x="1279" y="503" width="26" height="5" fill="#de3038"/>
<rect x="1279" y="572" width="26" height="5" fill="#de3038"/>
<rect x="1279" y="641" width="26" height="5" fill="#de3038"/>
<rect x="1279" y="710" width="26" height="5" fill="#de3038"/>
<rect x="1279" y="779" width="26" height="5" fill="#de3038"/>
<rect x="1279" y="848" width="26" height="5" fill="#de3038"/>
<rect x="1279" y="917" width="26" height="5" fill="#de3038"/>
<rect x="1279" y="986" width="26" height="5" fill="#de3038"/>
<rect x="1279" y="1055" width="26" height="5" fill="#de3038"/>
<rect x="1279" y="1124" width="26" height="5" fill="#de3038"/>
<rect x="1279" y="1193" width="26" height="5" fill="#de3038"/>
<path d="M1273,467 L1266,458 L1265,461 L1271,470 L1265,479 L1266,482 L1273,473 Z" fill="#de3038"/>
<path d="M1273,533 L1266,524 L1265,527 L1271,536 L1265,545 L1266,548 L1273,539 Z" fill="#de3038"/>
<path d="M1273,599 L1266,590 L1265,593 L1271,602 L1265,611 L1266,614 L1273,605 Z" fill="#de3038"/>
<path d="M1273,665 L1266,656 L1265,659 L1271,668 L1265,677 L1266,680 L1273,671 Z" fill="#de3038"/>
<path d="M1273,731 L1266,722 L1265,725 L1271,734 L1265,743 L1266,746 L1273,737 Z" fill="#de3038"/>
<path d="M1273,797 L1266,788 L1265,791 L1271,800 L1265,809 L1266,812 L1273,803 Z" fill="#de3038"/>
<path d="M1273,863 L1266,854 L1265,857 L1271,866 L1265,875 L1266,878 L1273,869 Z" fill="#de3038"/>
<path d="M1273,928 L1266,919 L1265,922 L1271,931 L1265,940 L1266,943 L1273,934 Z" fill="#de3038"/>
<path d="M1273,994 L1266,985 L1265,988 L1271,997 L1265,1006 L1266,1009 L1273,1000 Z" fill="#de3038"/>
<path d="M1273,1060 L1266,1051 L1265,1054 L1271,1063 L1265,1072 L1266,1075 L1273,1066 Z" fill="#de3038"/>
<path d="M1273,1126 L1266,1117 L1265,1120 L1271,1129 L1265,1138 L1266,1141 L1273,1132 Z" fill="#de3038"/>
<path d="M1273,1192 L1266,1183 L1265,1186 L1271,1195 L1265,1204 L1266,1207 L1273,1198 Z" fill="#de3038"/>
<polygon points="938,1200 1277,1200 1277,1217 1259,1246 1186,1246 1171,1228 1036,1228 1020,1246 958,1246 938,1217" fill="#8e1016"/>
<polygon points="970,1213 1250,1213 1250,1222 970,1222" fill="#6a0b10"/>
<polyline points="903,1214 952,1261 1026,1261 1042,1246 1183,1246 1198,1261 1276,1261 1313,1218" fill="none" stroke="#e23a40" stroke-width="2"/>
</g>
<rect x="1285" y="693" width="4" height="227" fill="#e4343c"/>
<polyline points="1285,920 1316,973" stroke="#e4343c" stroke-width="3" fill="none"/>
<polygon points="959,382 1242,382 1264,402 1264,413 1273,413 1273,533 940,533 940,416 950,414 950,400" fill="#525254"/>
<rect x="960" y="421" width="8" height="82" fill="#0e0e0e"/>
<rect x="1017" y="421" width="8" height="82" fill="#0e0e0e"/>
<rect x="1075" y="421" width="8" height="82" fill="#0e0e0e"/>
<rect x="1132" y="421" width="8" height="82" fill="#0e0e0e"/>
<rect x="1190" y="421" width="8" height="82" fill="#0e0e0e"/>
<rect x="1247" y="421" width="8" height="82" fill="#0e0e0e"/>
<path d="M1032,430 Q1036,418 1049,412.5 Q1062,418 1066,430 L1066,533 L1032,533 Z" fill="#2a0709"/>
<rect x="1032" y="445" width="34" height="30" fill="#5a0a0e" opacity="0.8"/>
<rect x="1032" y="478" width="34" height="30" fill="#8a1014" opacity="0.8"/>
<rect x="1047" y="508" width="3" height="25" fill="#3a3a3a"/>
<path d="M1147.5,430 Q1151.5,418 1164.5,412.5 Q1177.5,418 1181.5,430 L1181.5,533 L1147.5,533 Z" fill="#2a0709"/>
<rect x="1147.5" y="445" width="34" height="30" fill="#5a0a0e" opacity="0.8"/>
<rect x="1147.5" y="478" width="34" height="30" fill="#8a1014" opacity="0.8"/>
<rect x="1162.5" y="508" width="3" height="25" fill="#3a3a3a"/>
<path d="M972.5,430 Q976.5,418 990.5,413 Q1004.5,418 1008.5,430 L1008.5,506 L972.5,506 Z" fill="#1a1a1a"/><path d="M986.5,418 L990.5,413 L994.5,418 L991.5,445 Z" fill="#555"/><rect x="988.5" y="455" width="3" height="45" fill="#4a4a4a" opacity="0.8"/><rect x="982.5" y="465" width="3" height="40" fill="#2e2e2e"/><rect x="974.5" y="506" width="32" height="26" fill="#d2161f"/><rect x="982.0" y="511" width="17" height="15" fill="#f2eaea"/><path d="M986.5,515 L995.5,515 L995.5,518 L990.5,518 L990.5,522 L986.5,522 Z" fill="#c8141c"/><path d="M972.0,532 L1009.0,532 L1009.0,557 L972.0,557 Z" fill="#1c1c1c"/><rect x="974.0" y="536" width="33" height="6" fill="#2c2c2c"/><path d="M962.5,569 Q962.5,553 978.5,553 L1002.5,553 Q1018.5,553 1018.5,569 L1018.5,655 Q1018.5,661 1010.5,661 L970.5,661 Q962.5,661 962.5,655 Z" fill="url(#sockg)"/>
<path d="M1085.5,430 Q1089.5,418 1103.5,413 Q1117.5,418 1121.5,430 L1121.5,506 L1085.5,506 Z" fill="#1a1a1a"/><path d="M1099.5,418 L1103.5,413 L1107.5,418 L1104.5,445 Z" fill="#555"/><rect x="1101.5" y="455" width="3" height="45" fill="#4a4a4a" opacity="0.8"/><rect x="1095.5" y="465" width="3" height="40" fill="#2e2e2e"/><rect x="1087.5" y="506" width="32" height="26" fill="#d2161f"/><rect x="1095.0" y="511" width="17" height="15" fill="#f2eaea"/><path d="M1099.5,515 L1108.5,515 L1108.5,518 L1103.5,518 L1103.5,522 L1099.5,522 Z" fill="#c8141c"/><path d="M1084.5,532 L1122.5,532 L1122.5,558 L1084.5,558 Z" fill="#1c1c1c"/><rect x="1086.5" y="536" width="34" height="6" fill="#2c2c2c"/><path d="M1070.5,570 Q1070.5,554 1086.5,554 L1120.5,554 Q1136.5,554 1136.5,570 L1136.5,652 Q1136.5,658 1128.5,658 L1078.5,658 Q1070.5,658 1070.5,652 Z" fill="url(#sockg)"/>
<path d="M1195.5,430 Q1199.5,418 1213.5,413 Q1227.5,418 1231.5,430 L1231.5,514 L1195.5,514 Z" fill="#1a1a1a"/><path d="M1209.5,418 L1213.5,413 L1217.5,418 L1214.5,445 Z" fill="#555"/><rect x="1211.5" y="455" width="3" height="45" fill="#4a4a4a" opacity="0.8"/><rect x="1205.5" y="465" width="3" height="40" fill="#2e2e2e"/><rect x="1197.5" y="514" width="32" height="26" fill="#d2161f"/><rect x="1205.0" y="519" width="17" height="15" fill="#f2eaea"/><path d="M1209.5,523 L1218.5,523 L1218.5,526 L1213.5,526 L1213.5,530 L1209.5,530 Z" fill="#c8141c"/><path d="M1195.5,540 L1231.5,540 L1231.5,564 L1195.5,564 Z" fill="#1c1c1c"/><rect x="1197.5" y="544" width="32" height="6" fill="#2c2c2c"/><path d="M1178.0,576 Q1178.0,560 1194.0,560 L1233.0,560 Q1249.0,560 1249.0,576 L1249.0,660 Q1249.0,666 1241.0,666 L1186.0,666 Q1178.0,666 1178.0,660 Z" fill="url(#sockg)"/>
<text x="991" y="619" font-family="Liberation Sans" font-size="19" fill="#4c4c4c" textLength="27" lengthAdjust="spacingAndGlyphs">6mi</text>
<text x="1094" y="611" font-family="Liberation Sans" font-size="19" fill="#4c4c4c" textLength="41" lengthAdjust="spacingAndGlyphs">8mm</text>
<text x="1181" y="631" font-family="Liberation Sans" font-size="18" fill="#4c4c4c" textLength="52" lengthAdjust="spacingAndGlyphs">10mm</text>
<polygon points="950,780 1260,780 1260,812 1271,812 1271,858 1260,858 1260,866 1248,878 961,878 950,866 950,858 940,858 940,812 950,812" fill="#444446"/>
<rect x="959" y="789" width="8" height="66" fill="#0e0e0e"/>
<rect x="1016" y="789" width="8" height="66" fill="#0e0e0e"/>
<rect x="1073" y="789" width="8" height="66" fill="#0e0e0e"/>
<rect x="1131" y="789" width="8" height="66" fill="#0e0e0e"/>
<rect x="1189" y="789" width="8" height="66" fill="#0e0e0e"/>
<rect x="1246" y="789" width="8" height="66" fill="#0e0e0e"/>
<rect x="970.3" y="782" width="40" height="78" fill="#1a1a1a"/>
<path d="M975.3,788 L975.3,765 Q978.3,750 990.3,745.7 Q1002.3,750 1005.3,765 L1005.3,788 Z" fill="#2a2a2a"/>
<path d="M989.3,749.7 L998.3,770 L992.3,782 L984.3,760 Z" fill="#454545" opacity="0.8"/>
<rect x="972.3" y="787" width="36" height="41" fill="#d2161f"/>
<rect x="979.8" y="800" width="21" height="22" fill="#f2eaea"/>
<path d="M985.3,805 L997.3,805 L997.3,809 L991.3,809 L991.3,816 L985.3,816 Z" fill="#c8141c"/>
<path d="M974.3,828 L1006.3,828 L1006.3,846 L990.3,858.5 L974.3,846 Z" fill="#121212"/>
<rect x="1027.6" y="782" width="40" height="78" fill="#1a1a1a"/>
<path d="M1032.6,788 L1032.6,765 Q1035.6,750 1047.6,744.7 Q1059.6,750 1062.6,765 L1062.6,788 Z" fill="#2a2a2a"/>
<path d="M1046.6,748.7 L1055.6,770 L1049.6,782 L1041.6,760 Z" fill="#454545" opacity="0.8"/>
<rect x="1029.6" y="787" width="36" height="41" fill="#d2161f"/>
<rect x="1037.1" y="800" width="21" height="22" fill="#f2eaea"/>
<path d="M1042.6,805 L1054.6,805 L1054.6,809 L1048.6,809 L1048.6,816 L1042.6,816 Z" fill="#c8141c"/>
<path d="M1031.6,828 L1063.6,828 L1063.6,846 L1047.6,858.5 L1031.6,846 Z" fill="#121212"/>
<rect x="1084.9" y="782" width="40" height="78" fill="#1a1a1a"/>
<path d="M1094.4,788 L1094.4,746.7 L1098.4,741.7 L1111.4,741.7 L1115.4,746.7 L1115.4,788 Z" fill="#2a2a2a"/>
<rect x="1102.9" y="747.7" width="4" height="36" fill="#3c3c3c"/>
<rect x="1086.9" y="787" width="36" height="41" fill="#d2161f"/>
<rect x="1094.4" y="800" width="21" height="22" fill="#f2eaea"/>
<path d="M1099.9,805 L1111.9,805 L1111.9,809 L1105.9,809 L1105.9,816 L1099.9,816 Z" fill="#c8141c"/>
<path d="M1088.9,828 L1120.9,828 L1120.9,846 L1104.9,858.5 L1088.9,846 Z" fill="#121212"/>
<rect x="1144" y="782" width="40" height="78" fill="#1a1a1a"/>
<path d="M1152.0,788 L1152.0,749.7 L1156.0,744.7 L1172.0,744.7 L1176.0,749.7 L1176.0,788 Z" fill="#2a2a2a"/>
<rect x="1162" y="750.7" width="4" height="36" fill="#3c3c3c"/>
<rect x="1146" y="787" width="36" height="41" fill="#d2161f"/>
<rect x="1153.5" y="800" width="21" height="22" fill="#f2eaea"/>
<path d="M1159,805 L1171,805 L1171,809 L1165,809 L1165,816 L1159,816 Z" fill="#c8141c"/>
<path d="M1148,828 L1180,828 L1180,846 L1164,858.5 L1148,846 Z" fill="#121212"/>
<rect x="1201.4" y="782" width="40" height="78" fill="#1a1a1a"/>
<path d="M1207.4,788 L1207.4,744.8 L1211.4,739.8 L1231.4,739.8 L1235.4,744.8 L1235.4,788 Z" fill="#2a2a2a"/>
<rect x="1219.4" y="745.8" width="4" height="36" fill="#3c3c3c"/>
<rect x="1203.4" y="787" width="36" height="41" fill="#d2161f"/>
<rect x="1210.9" y="800" width="21" height="22" fill="#f2eaea"/>
<path d="M1216.4,805 L1228.4,805 L1228.4,809 L1222.4,809 L1222.4,816 L1216.4,816 Z" fill="#c8141c"/>
<path d="M1205.4,828 L1237.4,828 L1237.4,846 L1221.4,858.5 L1205.4,846 Z" fill="#121212"/>
<polygon points="940,1065 1273,1065 1273,1122 1263,1122 1263,1142 1273,1142 1273,1190 1250,1213 963,1213 940,1190 940,1142 950,1142 950,1122 940,1122" fill="#4a4a4c"/>
<rect x="960" y="1096" width="8" height="83" fill="#0e0e0e"/>
<rect x="1017" y="1096" width="8" height="83" fill="#0e0e0e"/>
<rect x="1075" y="1096" width="8" height="83" fill="#0e0e0e"/>
<rect x="1133" y="1096" width="8" height="83" fill="#0e0e0e"/>
<rect x="1190" y="1096" width="8" height="83" fill="#0e0e0e"/>
<rect x="1248" y="1096" width="8" height="83" fill="#0e0e0e"/>
<path d="M970.8,1056 L1007.8,1056 L1007.8,1150 Q1007.3,1168 1003.3,1175 L989.3,1186 L975.3,1175 Q971.3,1168 970.8,1150 Z" fill="#1e1e1e"/>
<rect x="986.3" y="1062" width="3" height="90" fill="#2e2e2e"/>
<path d="M975.3,1150 L1003.3,1150 L1001.3,1172 L989.3,1182 L977.3,1172 Z" fill="#151515"/>
<path d="M973.8,986 L973.8,960 Q975.8,940 989.3,929.7 Q1002.8,940 1004.8,960 L1004.8,986 Z" fill="#2c2c2c"/>
<path d="M987.3,935.7 L996.3,972 L992.3,980 L983.3,960 Z" fill="#4a4a4a" opacity="0.8"/>
<rect x="973.3" y="986" width="32" height="70" fill="#d2161f"/>
<rect x="980.8" y="1038" width="17" height="17" fill="#f2eaea"/>
<path d="M985.3,1043 L994.3,1043 L994.3,1046 L989.3,1046 L989.3,1051 L985.3,1051 Z" fill="#c8141c"/>
<text x="0" y="0" transform="translate(995.3,1036) rotate(-90)" font-family="Liberation Sans" font-weight="bold" font-size="15" fill="#f4eeee" textLength="45" lengthAdjust="spacingAndGlyphs">Einhell</text>
<text x="0" y="0" transform="translate(986.3,1118) rotate(-90)" font-family="Liberation Sans" font-size="17" fill="#c4c4c4" textLength="34" lengthAdjust="spacingAndGlyphs">PH2</text>
<path d="M1028.5,1056 L1065.5,1056 L1065.5,1150 Q1065,1168 1061,1175 L1047,1186 L1033,1175 Q1029,1168 1028.5,1150 Z" fill="#1e1e1e"/>
<rect x="1044" y="1062" width="3" height="90" fill="#2e2e2e"/>
<path d="M1033,1150 L1061,1150 L1059,1172 L1047,1182 L1035,1172 Z" fill="#151515"/>
<path d="M1031.5,986 L1031.5,960 Q1033.5,940 1047,934.7 Q1060.5,940 1062.5,960 L1062.5,986 Z" fill="#2c2c2c"/>
<path d="M1045,940.7 L1054,972 L1050,980 L1041,960 Z" fill="#4a4a4a" opacity="0.8"/>
<rect x="1031" y="986" width="32" height="70" fill="#d2161f"/>
<rect x="1038.5" y="1038" width="17" height="17" fill="#f2eaea"/>
<path d="M1043,1043 L1052,1043 L1052,1046 L1047,1046 L1047,1051 L1043,1051 Z" fill="#c8141c"/>
<text x="0" y="0" transform="translate(1053,1036) rotate(-90)" font-family="Liberation Sans" font-weight="bold" font-size="15" fill="#f4eeee" textLength="45" lengthAdjust="spacingAndGlyphs">Einhell</text>
<text x="0" y="0" transform="translate(1044,1118) rotate(-90)" font-family="Liberation Sans" font-size="17" fill="#c4c4c4" textLength="34" lengthAdjust="spacingAndGlyphs">PZ2</text>
<path d="M1084.0,1056 L1121.0,1056 L1121.0,1150 Q1120.5,1168 1116.5,1175 L1102.5,1186 L1088.5,1175 Q1084.5,1168 1084.0,1150 Z" fill="#1e1e1e"/>
<rect x="1099.5" y="1062" width="3" height="90" fill="#2e2e2e"/>
<path d="M1088.5,1150 L1116.5,1150 L1114.5,1172 L1102.5,1182 L1090.5,1172 Z" fill="#151515"/>
<path d="M1093.5,986 L1093.5,935.7 L1096.5,931.7 L1108.5,931.7 L1111.5,935.7 L1111.5,986 Z" fill="#2c2c2c"/>
<rect x="1100.5" y="937.7" width="4" height="45" fill="#404040"/>
<rect x="1086.5" y="986" width="32" height="70" fill="#d2161f"/>
<rect x="1094.0" y="1038" width="17" height="17" fill="#f2eaea"/>
<path d="M1098.5,1043 L1107.5,1043 L1107.5,1046 L1102.5,1046 L1102.5,1051 L1098.5,1051 Z" fill="#c8141c"/>
<text x="0" y="0" transform="translate(1108.5,1036) rotate(-90)" font-family="Liberation Sans" font-weight="bold" font-size="15" fill="#f4eeee" textLength="45" lengthAdjust="spacingAndGlyphs">Einhell</text>
<text x="0" y="0" transform="translate(1099.5,1118) rotate(-90)" font-family="Liberation Sans" font-size="17" fill="#c4c4c4" textLength="34" lengthAdjust="spacingAndGlyphs">T15</text>
<path d="M1142.2,1056 L1179.2,1056 L1179.2,1150 Q1178.7,1168 1174.7,1175 L1160.7,1186 L1146.7,1175 Q1142.7,1168 1142.2,1150 Z" fill="#1e1e1e"/>
<rect x="1157.7" y="1062" width="3" height="90" fill="#2e2e2e"/>
<path d="M1146.7,1150 L1174.7,1150 L1172.7,1172 L1160.7,1182 L1148.7,1172 Z" fill="#151515"/>
<path d="M1150.2,986 L1150.2,933.7 L1153.2,929.7 L1168.2,929.7 L1171.2,933.7 L1171.2,986 Z" fill="#2c2c2c"/>
<rect x="1158.7" y="935.7" width="4" height="45" fill="#404040"/>
<rect x="1144.7" y="986" width="32" height="70" fill="#d2161f"/>
<rect x="1152.2" y="1038" width="17" height="17" fill="#f2eaea"/>
<path d="M1156.7,1043 L1165.7,1043 L1165.7,1046 L1160.7,1046 L1160.7,1051 L1156.7,1051 Z" fill="#c8141c"/>
<text x="0" y="0" transform="translate(1166.7,1036) rotate(-90)" font-family="Liberation Sans" font-weight="bold" font-size="15" fill="#f4eeee" textLength="45" lengthAdjust="spacingAndGlyphs">Einhell</text>
<text x="0" y="0" transform="translate(1157.7,1118) rotate(-90)" font-family="Liberation Sans" font-size="17" fill="#c4c4c4" textLength="34" lengthAdjust="spacingAndGlyphs">T20</text>
<path d="M1198.5,1056 L1235.5,1056 L1235.5,1150 Q1235,1168 1231,1175 L1217,1186 L1203,1175 Q1199,1168 1198.5,1150 Z" fill="#1e1e1e"/>
<rect x="1214" y="1062" width="3" height="90" fill="#2e2e2e"/>
<path d="M1203,1150 L1231,1150 L1229,1172 L1217,1182 L1205,1172 Z" fill="#151515"/>
<path d="M1205.5,986 L1205.5,935.7 L1208.5,931.7 L1225.5,931.7 L1228.5,935.7 L1228.5,986 Z" fill="#2c2c2c"/>
<rect x="1215" y="937.7" width="4" height="45" fill="#404040"/>
<rect x="1201" y="986" width="32" height="70" fill="#d2161f"/>
<rect x="1208.5" y="1038" width="17" height="17" fill="#f2eaea"/>
<path d="M1213,1043 L1222,1043 L1222,1046 L1217,1046 L1217,1051 L1213,1051 Z" fill="#c8141c"/>
<text x="0" y="0" transform="translate(1223,1036) rotate(-90)" font-family="Liberation Sans" font-weight="bold" font-size="15" fill="#f4eeee" textLength="45" lengthAdjust="spacingAndGlyphs">Einhell</text>
<text x="0" y="0" transform="translate(1214,1118) rotate(-90)" font-family="Liberation Sans" font-size="17" fill="#c4c4c4" textLength="34" lengthAdjust="spacingAndGlyphs">T25</text>
<rect x="1285.5" y="694" width="18" height="228" fill="#c8161e"/>
<rect x="1287" y="705" width="16" height="55" fill="#1a1a1a"/>
<rect x="1287" y="857" width="16" height="55" fill="#1a1a1a"/>
<rect x="1293" y="705" width="6" height="207" fill="#9a1016" opacity="0.6"/>
<rect x="1303.5" y="704.5" width="23.5" height="212" fill="#2e2e30"/>
<rect x="1321" y="712" width="6" height="196" fill="#3a3a3c"/>
<rect x="1303.5" y="783" width="20" height="6" fill="#4a4a4c"/>
<rect x="1303.5" y="828" width="20" height="6" fill="#4a4a4c"/>
<rect x="1288" y="737" width="15" height="5" fill="#9a9a9a"/>
<rect x="1288" y="878" width="15" height="5" fill="#9a9a9a"/>
<circle cx="1295.5" cy="676" r="8" fill="#fff"/>
<circle cx="1295.5" cy="676" r="9.5" fill="none" stroke="#e23038" stroke-width="2"/>
<g id="icons" fill="none" stroke-linejoin="round" stroke-linecap="round">
<!-- cordless drill (red) -->
<path d="M129.3,94.8 L139.2,87.4 L152.8,86.8 Q167,83 181.4,81.8 L196.3,82.4 Q210,85 221.1,91.1 L221.7,113.5 L196.3,122.1 L193.8,127.1 Q198,135 200,144.5 L205,166.8 L211.2,171.8 L213.7,179.3 L212.4,191.7 L165.3,191.7 L162.8,181.7 L166.5,176.8 L185.1,169.3 L177.7,142 L175.2,137 L166.5,135.8 L167.7,122.1 L165.3,118.4 L157.8,117.2 L151.6,108.5 L140.4,107.2 L135.5,103.5 L129.3,101 Z" stroke="#d60f21" stroke-width="5.6"/>
<!-- corded drill (black) -->
<path d="M32.4,164.4 Q38,160 46.1,159.4 L57.2,159.4 L69.7,156.9 Q80,155 89.5,154.4 L106.9,155 L144.2,159.4 L142.9,169.3 L150.4,187.9 Q154,196 154.1,204.1 L152.8,235.1 L129.3,241.3 L128,237.6 L129.3,219 L126.8,215.3 L116.8,215.3 L116.8,211.5 L114.4,200.4 L110.6,197.9 L89.5,197.9 Q77,196 73.4,187.9 L69.7,178 L57.2,178 L44.8,179.3 Q36,178 33.7,174.3 L32.4,168.1 Z" stroke="#0a0a0a" stroke-width="6.2"/>
<!-- red socket -->
<g transform="translate(960.2,89.5) rotate(-14.2)" stroke="#d60f21" stroke-width="4.3" stroke-linejoin="miter">
<path d="M-26.5,0 L26.5,0 L26.5,33 Q26.5,40 19.5,40 L-19.5,40 Q-26.5,40 -26.5,33 Z"/>
<path d="M-20,40 L-20,55 L20,55 L20,40"/>
<path d="M-7.5,55 L-7.5,109 L7.5,109 L7.5,55"/>
</g>
<!-- black socket -->
<g transform="translate(1044.7,60.5) rotate(8.7)" stroke="#0a0a0a" stroke-width="4.3" stroke-linejoin="miter">
<path d="M-26.8,0 L26.8,0 L26.8,35 Q26.8,43 18.8,43 L-18.8,43 Q-26.8,43 -26.8,35 Z"/>
<path d="M-21,43 L-21,59 L21,59 L21,43"/>
<path d="M-8,59 L-8,111 L8,111 L8,59"/>
</g>
<!-- bit holder icon -->
<g transform="translate(51.6,1307.5) rotate(9)" stroke-linejoin="miter">
<path d="M-17.3,0 L17.3,0 L17.3,117 L-17.3,117 Z" stroke="#0a0a0a" stroke-width="4.7"/>
<path d="M-10.5,117 L-10.5,178 L10.5,178 L10.5,117" stroke="#0a0a0a" stroke-width="4.7"/>
<path d="M-18.8,21 L18.8,21 L18.8,82 L-18.8,82 Z" stroke="#d60f21" stroke-width="4.7" fill="#fff"/>
</g>
<!-- bit icon -->
<path d="M1043.2,1370 L1042.7,1366 L1037.8,1360.2 L1037.3,1332.5 L1048.1,1308.8 L1052.6,1305.4 L1061.5,1305.4 L1064.9,1308.8 L1074.3,1330.5 L1075.8,1358.2 L1070.4,1364.1 L1069.9,1370" stroke="#d60f21" stroke-width="4.4" stroke-linecap="butt"/>
<path d="M1069.9,1370 L1069.9,1404.6 L1071.3,1406.6 L1077.3,1411.5 L1078.2,1416.4 L1078.2,1455 L1072.3,1461.8 L1039.7,1461.8 L1033.8,1455.9 L1033.8,1413.5 L1036.8,1409.5 L1042.2,1405.6 L1043.2,1403.6 L1043.2,1370" stroke="#0a0a0a" stroke-width="4.4" stroke-linecap="butt"/>
<!-- drill icon -->
<path d="M707,1618.5 L703.4,1585.3 L722.4,1574.6 L746.1,1586.1 L745.7,1610.6 L743.7,1616.9 L736.6,1630.3 M722.4,1574.6 L726.3,1585.3 L746.1,1586.1 M726.3,1585.3 Q716,1600 707,1618.5" stroke="#d60f21" stroke-width="4.3" stroke-linecap="butt"/>
<polygon points="722.4,1574.6 746.1,1586.1 726.3,1585.3" fill="#d60f21" stroke="#d60f21" stroke-width="3"/>
<polygon points="728.6,1580.6 734.8,1583.3 728.6,1583.6" fill="#fff"/>
<path d="M707,1618.5 Q703,1630 703.6,1645 L703.6,1691 M736.6,1630.3 Q716,1660 703.6,1691 M737.2,1631 Q747,1650 746.9,1665 Q746,1680 739,1690.5" stroke="#0a0a0a" stroke-width="4.3"/>
</g>

<!-- TEXT -->
<g id="text">
<text class="k" x="257.0" y="138" font-size="61" textLength="575.0" lengthAdjust="spacingAndGlyphs">Brand-independent</text>
<text class="r" x="260.0" y="199" font-size="46" textLength="463.0" lengthAdjust="spacingAndGlyphs">for (impact) cordless</text>
<text class="r" x="259.0" y="252" font-size="46" textLength="514.8" lengthAdjust="spacingAndGlyphs">screwdrivers and drills</text>

<text class="k" x="1107.5" y="72" font-size="57" textLength="407.9" lengthAdjust="spacingAndGlyphs">Impact-resistant</text>
<text class="k" x="1105.8" y="138" font-size="57" textLength="404.3" lengthAdjust="spacingAndGlyphs">socket spanners</text>
<text class="r" x="1105.2" y="200" font-size="46" textLength="288.8" lengthAdjust="spacingAndGlyphs">6 / 8 / 10 mm</text>
<text class="r" x="1106.0" y="253" font-size="46" textLength="352.0" lengthAdjust="spacingAndGlyphs">hexagon socket</text>

<text class="k" x="92.7" y="1380" font-size="61" textLength="484.1" lengthAdjust="spacingAndGlyphs">Impact resistant</text>
<text class="k" x="92.0" y="1451" font-size="61" textLength="287.8" lengthAdjust="spacingAndGlyphs">bit holder</text>
<text class="r" x="92.4" y="1510" font-size="46" textLength="518.6" lengthAdjust="spacingAndGlyphs">60 mm made of carbon</text>
<text class="r" x="92.0" y="1563" font-size="46" textLength="371.8" lengthAdjust="spacingAndGlyphs">steel E 6.3 shank</text>

<text class="k" x="1102.0" y="1377" font-size="60" textLength="611.8" lengthAdjust="spacingAndGlyphs">Impact resistant bits</text>
<text class="r" x="1101.0" y="1436" font-size="46" textLength="627.2" lengthAdjust="spacingAndGlyphs">25 / 50 mm made of S2 steel</text>

<text class="k" x="769.0" y="1625" font-size="60" textLength="302.5" lengthAdjust="spacingAndGlyphs">Metal drill</text>
<text class="r" x="768.9" y="1684" font-size="46" textLength="554.1" lengthAdjust="spacingAndGlyphs">3-6 mm in HSS 4241 steel</text>
<text class="r" x="771.0" y="1739" font-size="46" textLength="412.6" lengthAdjust="spacingAndGlyphs">135° split-point tip</text>
</g>
<!-- CALLOUT LINES -->
<g fill="none" stroke="#d40f22" stroke-width="4.6">
<polyline points="261,286.5 659.2,286.5 659.2,419"/>
<polyline points="1563.5,285.5 1107.5,285.5 1107.5,459"/>
<polyline points="97,1305.5 546.8,1305.5 546.8,1147"/>
<polyline points="777.2,1147 777.2,1549.5 1244,1549.5"/>
<polyline points="1105.7,1146 1105.7,1306 1646,1306"/>
</g>
<g fill="#d60e20">
<circle cx="659" cy="419" r="13.7"/>
<circle cx="1107.4" cy="459.6" r="14"/>
<circle cx="547.3" cy="1147" r="14.3"/>
<circle cx="777.3" cy="1147" r="14.3"/>
<circle cx="1105.7" cy="1145.5" r="14.3"/>
</g>
</svg>
</body></html>
